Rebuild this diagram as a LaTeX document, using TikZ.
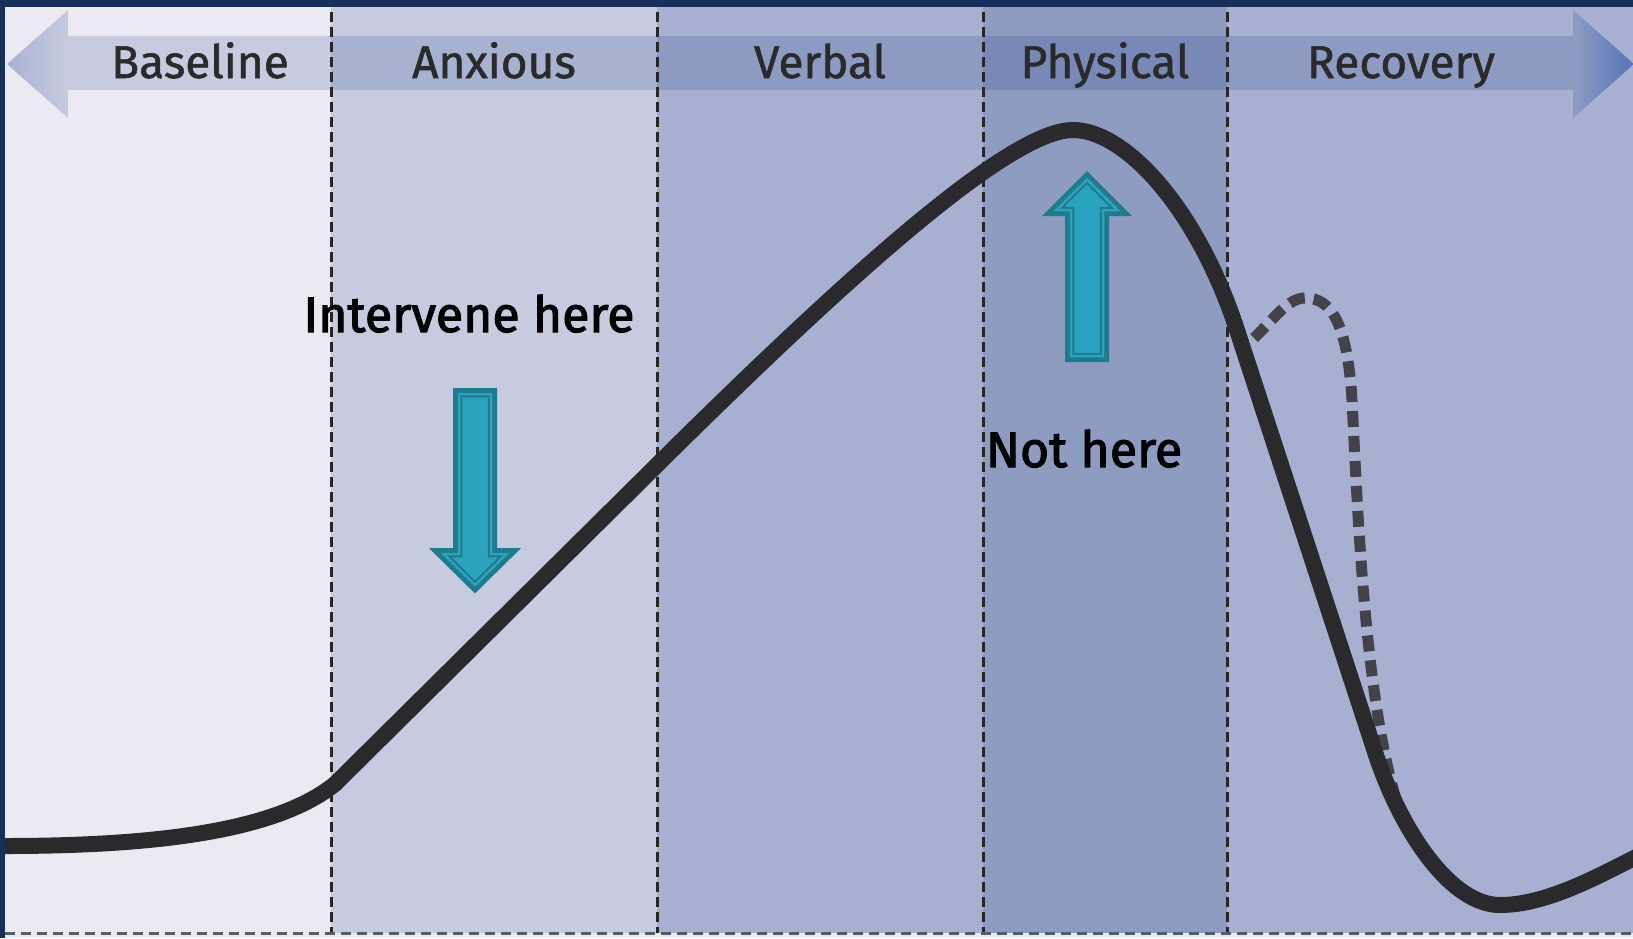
\documentclass[tikz,border=0pt]{standalone}
\usepackage{fontspec}
\setmainfont{Fira Sans}
\newfontfamily\stagefont[FakeBold=1.2]{Fira Sans}
\newfontfamily\calloutfont[FakeBold=2.2]{Fira Sans}
\usetikzlibrary{positioning}
\definecolor{navyframe}{RGB}{22,48,90}
\definecolor{bgbase}{RGB}{235,234,243}
\definecolor{bganx}{RGB}{198,203,224}
\definecolor{bgverb}{RGB}{167,176,208}
\definecolor{bgphys}{RGB}{142,156,194}
\definecolor{bandblue}{RGB}{7,42,126}
\definecolor{headlight}{RGB}{198,203,224}
\definecolor{headleft}{RGB}{168,178,210}
\definecolor{headtip}{RGB}{86,116,184}
\definecolor{curveblack}{RGB}{42,42,44}
\definecolor{curvegray}{RGB}{66,66,72}
\definecolor{tealdark}{RGB}{30,122,140}
\definecolor{teallight}{RGB}{43,162,190}
\definecolor{labelgray}{RGB}{42,42,42}
\definecolor{rulegray}{RGB}{85,92,110}
\tikzset{
  stagelabel/.style={font=\stagefont\fontsize{46}{50}\selectfont,text=labelgray,anchor=base,inner sep=0pt},
  callout/.style={font=\calloutfont\fontsize{50}{56}\selectfont,text=black,anchor=base,inner sep=0pt},
  divider/.style={draw=black!85,line width=3pt,dash pattern=on 10pt off 5pt},
  baserule/.style={draw=rulegray,line width=3pt,dash pattern=on 10pt off 6pt},
  escalation/.style={draw=curveblack,line width=16pt},
  relapse/.style={draw=curvegray,line width=11pt,dash pattern=on 16pt off 9pt},
  tealarrow/.style={preaction={draw=tealdark,line width=12pt,line join=miter},
    fill=teallight,draw=tealdark,double=teallight,double distance=2.5pt,line width=2pt,line join=miter}
}

\begin{document}
\begin{tikzpicture}[x=1pt,y=-1pt]
  \useasboundingbox (0,0) rectangle (1633,938);

  %% Stage backgrounds
  \fill[bgbase] (0,0) rectangle (1633,938);
  \fill[bganx] (331,7) rectangle (657,933);
  \fill[bgverb] (657,7) rectangle (983,933);
  \fill[bgphys] (983,7) rectangle (1227,933);
  \fill[bgverb] (1227,7) rectangle (1633,933);
  \fill[navyframe] (0,0) rectangle (1633,7);
  \fill[navyframe] (0,0) rectangle (5,938);

  %% Timeline band
  \fill[bandblue,fill opacity=0.16] (68,36) rectangle (1573,90);
  \shade[left color=headleft,right color=headlight] (7,64) -- (68,10) -- (68,118) -- cycle;
  \shade[left color=bgphys,right color=headtip] (1573,10) -- (1634,64) -- (1573,118) -- cycle;

  %% Stage dividers
  \foreach \x in {331,657,983,1227}
    \draw[divider] (\x,12) -- (\x,933);
  \draw[baserule] (5,933) -- (1633,933);

  %% Curves
  \draw[relapse] (1254,338) .. controls (1275,318) and (1288,298) .. (1305,298)
    .. controls (1330,298) and (1347,320) .. (1352,400)
    .. controls (1358,520) and (1365,700) .. (1398,806);
  \draw[escalation] (5,846) .. controls (170,846) and (280,828) .. (335,784)
    -- (660,462)
    .. controls (850,274) and (1010,130) .. (1073,130)
    .. controls (1125,130) and (1197,208) .. (1237,330)
    -- (1375,752)
    .. controls (1400,829) and (1450,905) .. (1500,905)
    .. controls (1545,905) and (1595,878) .. (1640,855);

  %% Arrows
  \draw[tealarrow] (459,394) -- (491,394) -- (491,554) -- (506.5,554)
    -- (475,585) -- (443.5,554) -- (459,554) -- cycle;
  \draw[tealarrow] (1071,356) -- (1103,356) -- (1103,210) -- (1117.5,210)
    -- (1087,179.5) -- (1056.5,210) -- (1071,210) -- cycle;

  %% Labels
  \node[stagelabel] (lblbaseline) at (200,78) {Baseline};
  \node[stagelabel] (lblanxious) at (494,78) {Anxious};
  \node[stagelabel] (lblverbal) at (820,78) {Verbal};
  \node[stagelabel] (lblphysical) at (1105,78) {Physical};
  \node[stagelabel] (lblrecovery) at (1401,78) {Recovery};
  \node[callout] (intervene) at (469,332) {Intervene here};
  \node[callout] (nothere) at (1084,467) {Not here};
\end{tikzpicture}
\end{document}
